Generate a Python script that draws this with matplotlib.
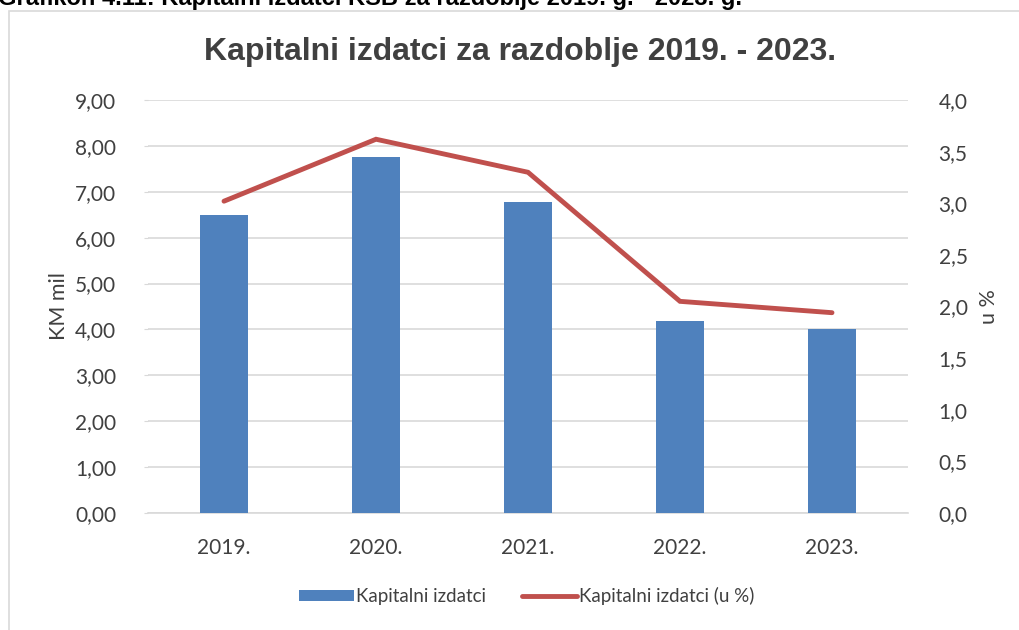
import matplotlib
matplotlib.use("Agg")
import matplotlib.pyplot as plt
from matplotlib.patches import Rectangle, Patch
from matplotlib.lines import Line2D
from matplotlib.ticker import FuncFormatter, MultipleLocator

years = ["2019.", "2020.", "2021.", "2022.", "2023."]
izdatci_km = [6.49, 7.76, 6.78, 4.19, 4.02]
izdatci_pct = [3.02, 3.62, 3.30, 2.05, 1.94]

caption = "Grafikon 4.11: Kapitalni izdatci KSB za razdoblje 2019. g. - 2023. g."
title = "Kapitalni izdatci za razdoblje 2019. - 2023."

BLUE = "#4F81BD"
RED = "#C0504D"
GRID = "#D9D9D9"
TXT = "#404040"
FONT = ["Lato", "DejaVu Sans"]

fig = plt.figure(figsize=(10.2, 6.3), dpi=100)
W, H = 1020, 630

# chart border
fig.patches.append(Rectangle((9 / W, -0.1), 1.2, (1 - 11 / H) + 0.1,
                             transform=fig.transFigure, fill=False,
                             edgecolor=GRID, lw=1.2, zorder=0))

fig.text(-0.002, 1 - 5.5 / H, caption, ha="left", va="baseline",
         fontsize=17, fontweight="bold", family=["Liberation Sans", "DejaVu Sans"],
         color="black")

ax = fig.add_axes([148 / W, 1 - 513 / H, 760 / W, 413 / H])
ax2 = ax.twinx()
ax.set_zorder(1)
ax2.set_zorder(2)
ax.patch.set_visible(False)
ax2.patch.set_visible(False)

x = list(range(len(years)))
ax.bar(x, izdatci_km, width=0.32, color=BLUE, zorder=3)
ax2.plot(x, izdatci_pct, color=RED, lw=3.5, solid_capstyle="round",
         solid_joinstyle="miter", zorder=3)

ax.set_xlim(-0.5, len(years) - 0.5)
ax.set_ylim(0, 9)
ax2.set_ylim(0, 4)
ax.yaxis.set_major_locator(MultipleLocator(1))
ax2.yaxis.set_major_locator(MultipleLocator(0.5))
ax.yaxis.set_major_formatter(FuncFormatter(lambda v, p: f"{v:.2f}".replace(".", ",")))
ax2.yaxis.set_major_formatter(FuncFormatter(lambda v, p: f"{v:.1f}".replace(".", ",")))
ax.set_xticks(x)
ax.set_xticklabels(years)

ax.grid(axis="y", color=GRID, lw=1.2, zorder=0)
ax.set_axisbelow(True)
for a in (ax, ax2):
    for s in a.spines.values():
        s.set_visible(False)
ax.spines["bottom"].set_visible(True)
ax.spines["bottom"].set_color(GRID)
ax.spines["bottom"].set_linewidth(1.2)

ax.tick_params(axis="y", length=3, color=GRID, pad=20, labelsize=15, labelcolor=TXT)
ax.tick_params(axis="x", length=0, pad=18, labelsize=15, labelcolor=TXT)
ax2.tick_params(axis="y", length=0, pad=22, labelsize=15, labelcolor=TXT)
for lbl in ax.get_xticklabels() + ax.get_yticklabels() + ax2.get_yticklabels():
    lbl.set_family(FONT)

ax.set_ylabel("KM mil", fontsize=15.5, color=TXT, family=FONT, labelpad=4)
ax2.set_ylabel("u %", fontsize=15.5, color=TXT, family=FONT, rotation=90, labelpad=8)

fig.text(520 / W, 1 - 52 / H, title, ha="center", va="center", fontsize=23,
         fontweight="bold", color=TXT, family=["Liberation Sans", "DejaVu Sans"])

handles = [Patch(facecolor=BLUE, edgecolor="none"),
           Line2D([], [], color=RED, lw=3.5, solid_capstyle="round")]
leg = fig.legend(handles, ["Kapitalni izdatci", "Kapitalni izdatci (u %)"],
                 loc="center", bbox_to_anchor=(527 / W, 1 - 596 / H), ncol=2,
                 frameon=False, prop={"family": FONT, "size": 13.5},
                 handlelength=2.9, handleheight=0.55, handletextpad=0.15,
                 columnspacing=1.9)
for t in leg.get_texts():
    t.set_color(TXT)

fig.savefig("out.png", dpi=100)
